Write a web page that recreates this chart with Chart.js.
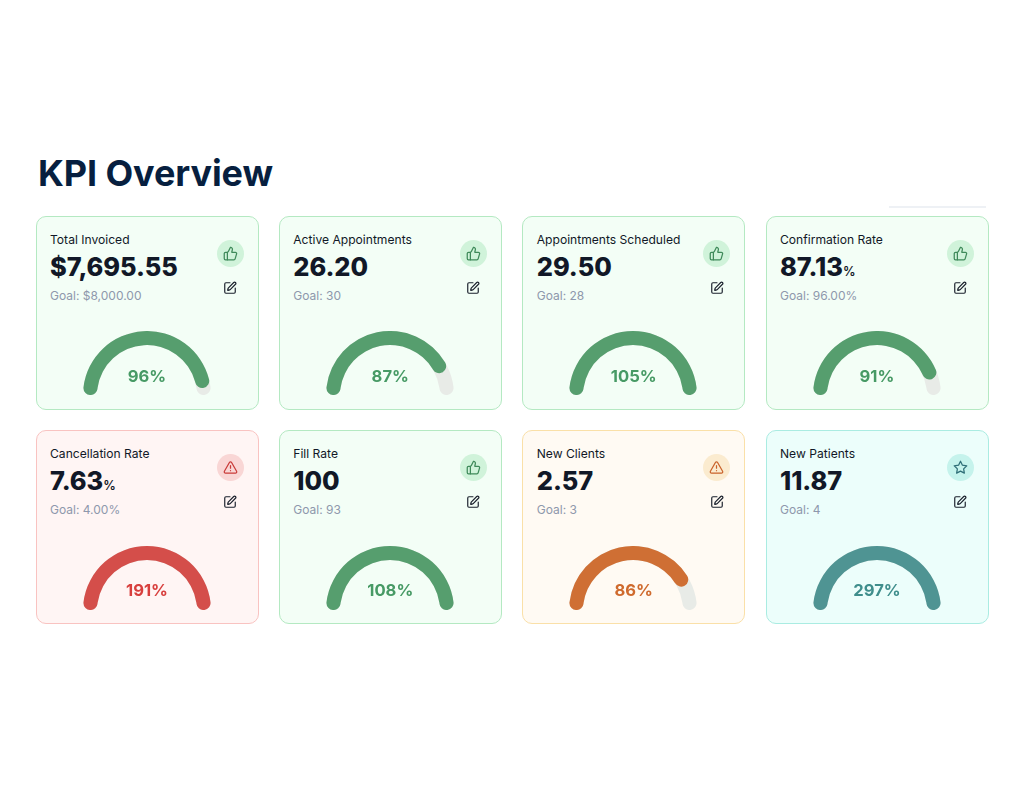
<!DOCTYPE html>
<html>
<head>
<meta charset="utf-8">
<title>KPI Overview</title>
<script src="https://cdn.jsdelivr.net/npm/chart.js@4"></script>
<style>
  html, body { margin: 0; padding: 0; background: #fff; }
  body { width: 1024px; height: 786px; position: relative; overflow: hidden; font-family: Inter, sans-serif; }
  h1 { position: absolute; left: 38px; top: 151px; margin: 0; font-size: 36px; line-height: 44px; font-weight: 700; letter-spacing: -0.1px; color: #071f3f; }
  .rule { position: absolute; left: 889px; top: 206px; width: 97px; height: 1.5px; background: #eef1f5; }
  .card { position: absolute; width: 223px; height: 193.75px; box-sizing: border-box; border: 1.3px solid; border-radius: 10px; }
  .card > * { position: absolute; }
  .name { left: 13.5px; top: 15px; font-size: 12.1px; line-height: 16px; font-weight: 400; color: #111827; white-space: nowrap; }
  .value { left: 13.5px; top: 33px; font-size: 25.4px; line-height: 34px; font-weight: 800; letter-spacing: -0.05px; color: #111827; white-space: nowrap; }
  .value small { font-size: 12.5px; font-weight: 600; letter-spacing: 0; }
  .goal { left: 13.5px; top: 71px; font-size: 12px; line-height: 16px; color: #8e98ac; white-space: nowrap; }
  .badge { left: 180px; top: 23px; width: 27px; height: 27px; border-radius: 50%; display: flex; align-items: center; justify-content: center; }
  .edit { left: 186.5px; top: 64px; width: 14px; height: 14px; }
  svg { fill: none; stroke-width: 2; stroke-linecap: round; stroke-linejoin: round; display: block; }
  .gauge { left: 46px; top: 114.5px; width: 128px; height: 64px; }
  .gauge canvas { position: absolute; left: 0; top: 0; }
  .pct { left: 46.5px; width: 128px; top: 148px; text-align: center; font-size: 16.6px; line-height: 22px; font-weight: 700; }
</style>
</head>
<body>
<h1>KPI Overview</h1>
<div class="rule"></div>
<div id="cards"></div>
<script>
// values
const categories = ["Total Invoiced", "Active Appointments", "Appointments Scheduled", "Confirmation Rate",
  "Cancellation Rate", "Fill Rate", "New Clients", "New Patients"];
const valueLabels = ["$7,695.55", "26.20", "29.50", "87.13", "7.63", "100", "2.57", "11.87"];
const valueSuffix = ["", "", "", "%", "%", "", "", ""];
const goalLabels = ["$8,000.00", "30", "28", "96.00%", "4.00%", "93", "3", "4"];
const percents = [96, 87, 105, 91, 191, 108, 86, 297];
const statuses = ["good", "good", "good", "good", "bad", "good", "warn", "top"];

const palette = {
  good: { bg: "#f3fef6", border: "#b4e9c2", badge: "#d0f3da", icon: "#3f8a5a", arc: "#569e6e", text: "#479a65" },
  bad:  { bg: "#fff5f4", border: "#f9c3c1", badge: "#f9d6d5", icon: "#c93a38", arc: "#d44e4a", text: "#d83f3d" },
  warn: { bg: "#fffaf3", border: "#fae0a8", badge: "#fbebcf", icon: "#c9622a", arc: "#cf6f34", text: "#cf6a2d" },
  top:  { bg: "#ecfefb", border: "#aaece2", badge: "#c5f3ec", icon: "#2f6f78", arc: "#4f9493", text: "#3f8e8c" }
};
const trackColor = "#e8ebe7";

const icons = {
  good: '<path d="M7 10v12"/><path d="M15 5.88 14 10h5.83a2 2 0 0 1 1.92 2.56l-2.33 8A2 2 0 0 1 17.5 22H4a2 2 0 0 1-2-2v-8a2 2 0 0 1 2-2h2.76a2 2 0 0 0 1.79-1.11L12 2a3.13 3.13 0 0 1 3 3.88Z"/>',
  bad: '<path d="m21.73 18-8-14a2 2 0 0 0-3.48 0l-8 14A2 2 0 0 0 4 21h16a2 2 0 0 0 1.73-3"/><path d="M12 9v4"/><path d="M12 17h.01"/>',
  top: '<polygon points="12 2 15.09 8.26 22 9.27 17 14.14 18.18 21.02 12 17.77 5.82 21.02 7 14.14 2 9.27 8.91 8.26"/>',
  edit: '<path d="M12 3H5a2 2 0 0 0-2 2v14a2 2 0 0 0 2 2h14a2 2 0 0 0 2-2v-7"/><path d="M18.375 2.625a1 1 0 0 1 3 3l-9.013 9.014a2 2 0 0 1-.853.505l-2.873.84a.5.5 0 0 1-.62-.62l.84-2.873a2 2 0 0 1 .506-.852z"/>'
};
icons.warn = icons.bad;

const colX = [35.5, 278.75, 522.25, 765.5];
const rowY = [215.75, 430.25];

function gaugeChart(canvas, data, colors) {
  return new Chart(canvas, {
    type: "doughnut",
    data: { datasets: [{ data: data, backgroundColor: colors, borderWidth: 0, borderRadius: 7 }] },
    options: {
      responsive: false,
      animation: false,
      rotation: -90,
      circumference: 180,
      cutout: "78%",
      layout: { padding: 0 },
      plugins: { legend: { display: false }, tooltip: { enabled: false } }
    }
  });
}

const root = document.getElementById("cards");
categories.forEach((name, i) => {
  const c = palette[statuses[i]];
  const card = document.createElement("div");
  card.className = "card";
  card.style.left = colX[i % 4] + "px";
  card.style.top = rowY[Math.floor(i / 4)] + "px";
  card.style.background = c.bg;
  card.style.borderColor = c.border;
  const suffix = valueSuffix[i] ? `<small>${valueSuffix[i]}</small>` : "";
  card.innerHTML = `
    <div class="name">${name}</div>
    <div class="value">${valueLabels[i]}${suffix}</div>
    <div class="goal">Goal: ${goalLabels[i]}</div>
    <div class="badge" style="background:${c.badge}"><svg width="15" height="15" viewBox="0 0 24 24" style="stroke:${c.icon}">${icons[statuses[i]]}</svg></div>
    <svg class="edit" viewBox="0 0 24 24" style="stroke:#1a202c">${icons.edit}</svg>
    <div class="gauge"><canvas width="128" height="64"></canvas><canvas width="128" height="64"></canvas></div>
    <div class="pct" style="color:${c.text}">${percents[i]}%</div>`;
  root.appendChild(card);

  // track behind, value on top so its round end sits over the track
  const canvases = card.querySelectorAll("canvas");
  const shown = Math.min(percents[i], 100);
  gaugeChart(canvases[0], [100], [trackColor]);
  gaugeChart(canvases[1], [shown, 100 - shown], [c.arc, "rgba(0,0,0,0)"]);
});
</script>
</body>
</html>
